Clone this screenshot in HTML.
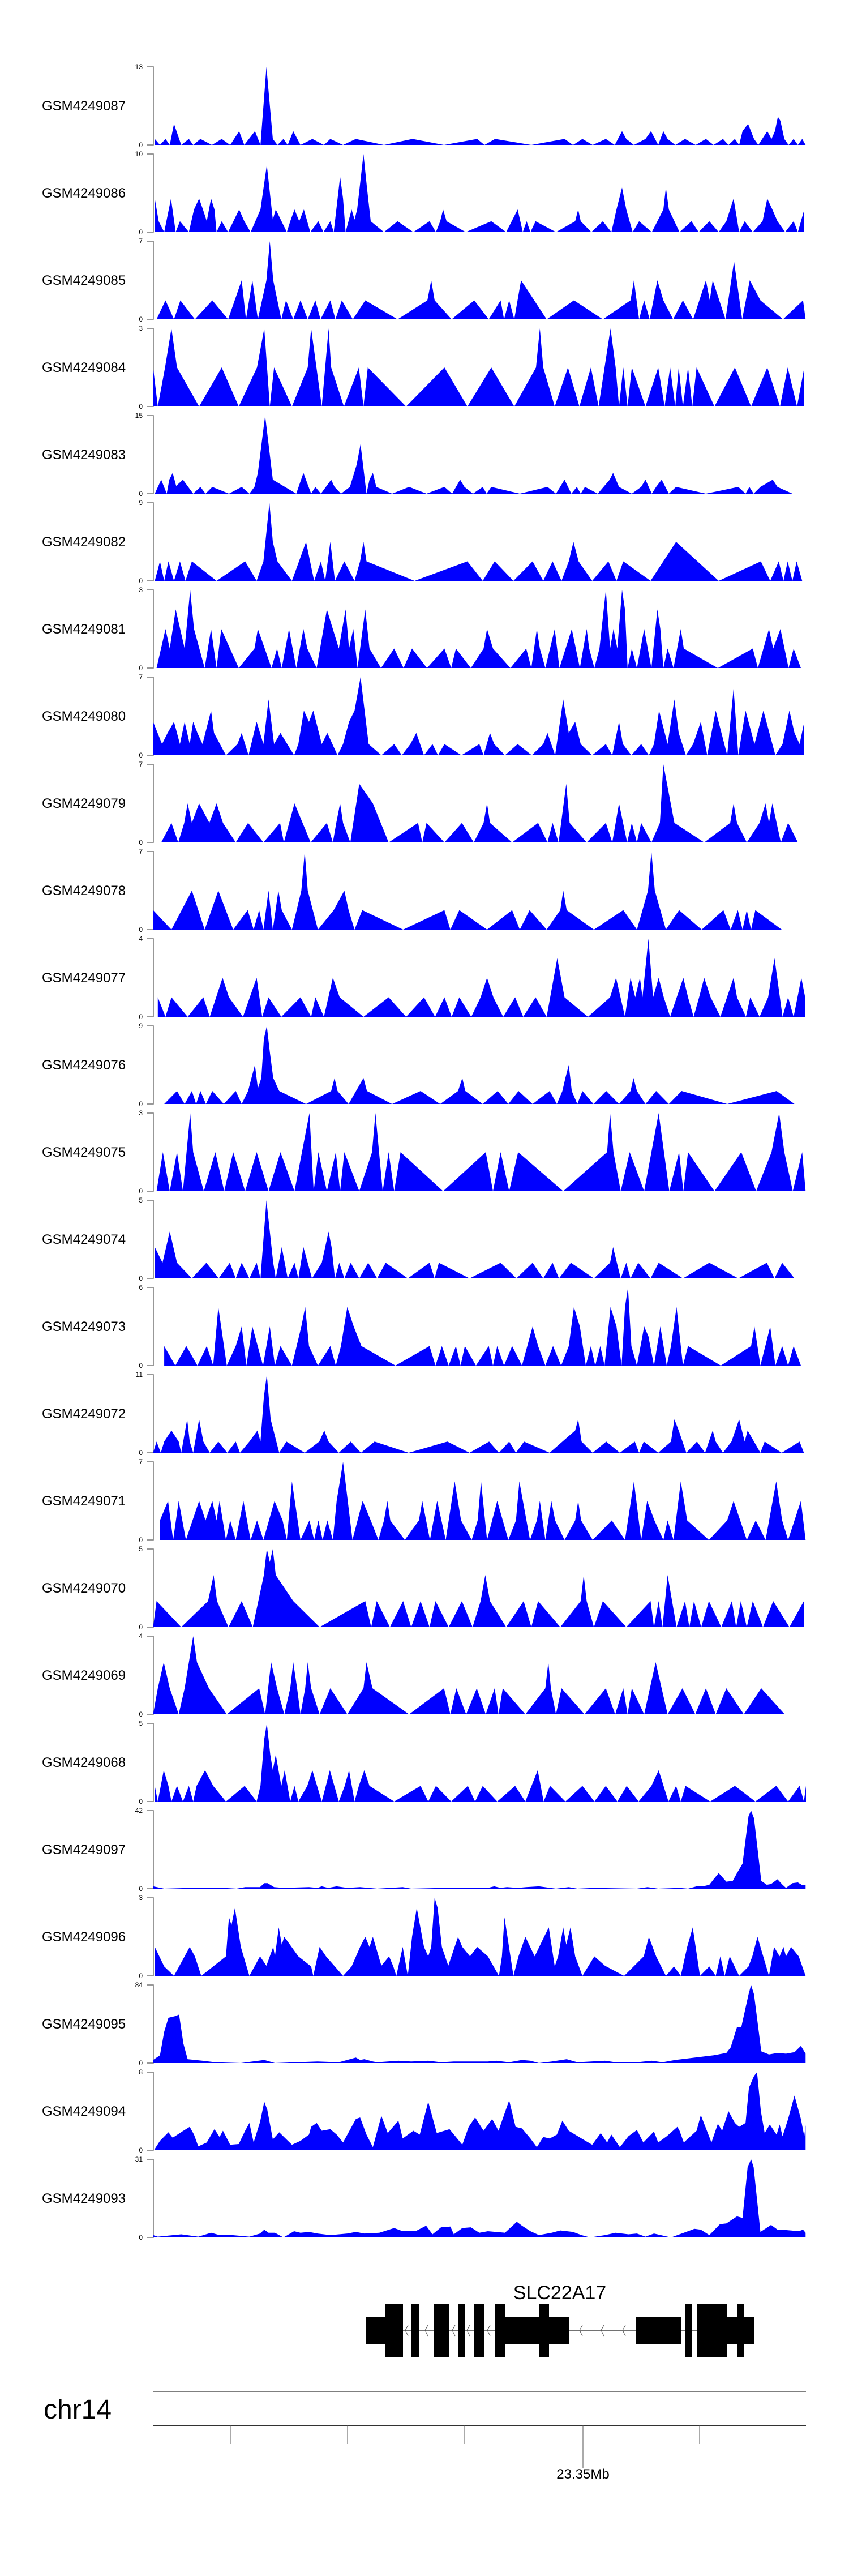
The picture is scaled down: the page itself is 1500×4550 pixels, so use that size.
<!DOCTYPE html>
<html><head><meta charset="utf-8">
<style>
html,body{margin:0;padding:0;background:#fff;}
svg{display:block;font-family:"Liberation Sans",Arial,sans-serif;}
</style></head>
<body>
<svg id="chart" width="1500" height="4550" viewBox="0 0 1500 4550" xmlns="http://www.w3.org/2000/svg">
<rect x="0" y="0" width="1500" height="4550" fill="#fff"/>
<g id="tracks"></g>
<g id="gene">
  <text x="989" y="4061" font-size="34" text-anchor="middle" fill="#000">SLC22A17</text>
  <line x1="681" y1="4116" x2="1332" y2="4116" stroke="#444" stroke-width="1.5"/>
</g>
<g id="axis">
  <text x="77" y="4272" font-size="48" fill="#000">chr14</text>
  <line x1="271" y1="4224" x2="1424" y2="4224" stroke="#555" stroke-width="1.5"/>
  <line x1="271" y1="4284" x2="1424" y2="4284" stroke="#333" stroke-width="2"/>
</g>
</svg>
<script>
const NS="http://www.w3.org/2000/svg";
const sampleNames=["GSM4249087","GSM4249086","GSM4249085","GSM4249084","GSM4249083","GSM4249082","GSM4249081","GSM4249080","GSM4249079","GSM4249078","GSM4249077","GSM4249076","GSM4249075","GSM4249074","GSM4249073","GSM4249072","GSM4249071","GSM4249070","GSM4249069","GSM4249068","GSM4249097","GSM4249096","GSM4249095","GSM4249094","GSM4249093"];
const maxTickLabels=["13","10","7","3","15","9","3","7","7","7","4","9","3","5","6","11","7","5","4","5","42","3","84","8","31"];
const yTop=[13,10,7,3,15,4,3,7,4,4,4,6,2,5,4,7,4,3,3,5,100,100,100,100,100];
const t1=[[18,1],[30,0],[43,1],[53,0],[63,3.5],[80,0],[98,1],[108,0],[125,1],[152,0],[175,1],[195,0],[216,2.3],[228,0],[253,2.3],[266,0],[280,13],[295,1],[306,0],[320,1],[330,0],[343,2.3],[360,0],[388,1],[415,0],[430,1],[460,0],[490,1],[556,0],[623,1],[697,0],[775,1],[792,0],[817,1],[902,0],[980,1],[1000,0],[1022,1],[1046,0],[1077,1],[1098,0],[1115,2.3],[1125,1],[1143,0],[1170,1],[1183,2.3],[1200,0],[1212,2.3],[1222,1],[1240,0],[1263,1],[1288,0],[1312,1],[1330,0],[1352,1],[1365,0],[1380,1],[1390,0],[1398,2.3],[1411,3.5],[1425,1],[1435,0],[1456,2.3],[1466,1],[1474,2.3],[1481,4.7],[1487,4],[1496,1],[1506,0],[1518,1],[1528,0],[1538,1],[1546,0]];
const t2=[[18,4.3],[27,1.4],[40,0],[56,4.3],[67,0],[77,1.4],[98,0],[110,2.9],[122,4.3],[131,2.9],[140,1.4],[150,4.3],[158,2.9],[163,0],[175,1.4],[190,0],[216,2.9],[228,1.4],[243,0],[266,2.9],[281,8.6],[295,1.6],[302,2.9],[328,0],[336,1.4],[346,2.9],[357,1.4],[368,2.9],[383,0],[402,1.4],[414,0],[430,1.4],[438,0],[453,7.1],[460,4.3],[466,0],[480,2.9],[487,1.6],[493,2.9],[508,10],[516,5.7],[525,1.4],[556,0],[588,1.4],[625,0],[663,1.4],[678,0],[688,1.4],[695,2.9],[703,1.4],[748,0],[808,1.4],[843,0],[870,2.9],[882,0],[891,1.4],[900,0],[912,1.4],[960,0],[1005,1.4],[1012,2.9],[1018,1.4],[1043,0],[1070,1.4],[1090,0],[1102,2.9],[1115,5.7],[1125,2.9],[1140,0],[1155,1.4],[1185,0],[1212,2.9],[1218,5.7],[1225,2.9],[1250,0],[1278,1.4],[1295,0],[1320,1.4],[1342,0],[1360,1.4],[1377,4.3],[1390,0],[1403,1.4],[1422,0],[1445,1.4],[1456,4.3],[1468,2.9],[1480,1.4],[1498,0],[1518,1.4],[1528,0],[1543,2.9]];
const t3=[[22,0],[43,1.7],[63,0],[78,1.7],[112,0],[153,1.7],[190,0],[222,3.5],[232,0],[247,3.5],[260,0],[280,3.5],[288,7],[296,3.5],[315,0],[326,1.7],[343,0],[360,1.7],[377,0],[395,1.7],[407,0],[430,1.7],[442,0],[457,1.7],[483,0],[512,1.7],[588,0],[658,1.7],[667,3.5],[675,1.7],[715,0],[768,1.7],[802,0],[830,1.7],[838,0],[850,1.7],[862,0],[878,3.5],[938,0],[1002,1.7],[1070,0],[1135,1.7],[1143,3.5],[1155,0],[1167,1.7],[1180,0],[1198,3.5],[1212,1.7],[1235,0],[1258,1.7],[1282,0],[1312,3.5],[1321,1.7],[1328,3.5],[1358,0],[1378,5.2],[1397,0],[1415,3.5],[1440,1.7],[1493,0],[1540,1.7],[1546,0]];
const t4=[[14,1.5],[25,0],[42,1.5],[57,3],[70,1.5],[122,0],[175,1.5],[215,0],[258,1.5],[275,3],[288,0],[298,1.5],[340,0],[377,1.5],[385,3],[410,0],[426,3],[432,1.5],[462,0],[497,1.5],[508,0],[518,1.5],[608,0],[698,1.5],[752,0],[808,1.5],[862,0],[913,1.5],[922,3],[930,1.5],[957,0],[988,1.5],[1015,0],[1042,1.5],[1060,0],[1088,3],[1100,1.5],[1108,0],[1118,1.5],[1128,0],[1138,1.5],[1170,0],[1200,1.5],[1215,0],[1228,1.5],[1240,0],[1248,1.5],[1258,0],[1270,1.5],[1280,0],[1290,1.5],[1332,0],[1380,1.5],[1418,0],[1456,1.5],[1486,0],[1504,1.5],[1526,0],[1543,1.5]];
const t5=[[18,0],[33,2.7],[46,0],[52,2.7],[60,4],[68,1.5],[84,2.7],[108,0],[125,1.3],[137,0],[153,1.3],[192,0],[222,1.3],[240,0],[252,1.3],[260,4],[277,15],[295,2.7],[350,0],[367,4],[385,0],[395,1.3],[408,0],[432,2.7],[440,1.3],[455,0],[476,1.3],[492,5.6],[501,9.5],[515,0],[522,2.7],[530,4],[538,1.3],[575,0],[615,1.3],[656,0],[698,1.3],[716,0],[735,2.7],[745,1.3],[765,0],[788,1.3],[797,0],[808,1.3],[875,0],[940,1.3],[960,0],[980,2.7],[996,0],[1009,1.3],[1018,0],[1028,1.3],[1058,0],[1086,2.7],[1094,4],[1108,1.3],[1138,0],[1160,1.3],[1170,2.7],[1185,0],[1195,1.3],[1208,2.7],[1225,0],[1242,1.3],[1312,0],[1388,1.3],[1405,0],[1414,1.3],[1424,0],[1440,1.3],[1469,2.7],[1480,1.3],[1515,0]];
const t6=[[18,0],[30,1],[40,0],[50,1],[63,0],[77,1],[90,0],[105,1],[163,0],[230,1],[257,0],[273,1],[287,4],[295,2],[306,1],[340,0],[373,2],[392,0],[408,1],[418,0],[430,2],[441,0],[463,1],[487,0],[500,1],[508,2],[515,1],[628,0],[752,1],[788,0],[816,1],[860,0],[905,1],[930,0],[952,1],[973,0],[990,1],[1001,2],[1013,1],[1045,0],[1083,1],[1102,0],[1118,1],[1182,0],[1242,2],[1342,0],[1441,1],[1463,0],[1483,1],[1494,0],[1504,1],[1515,0],[1525,1],[1538,0]];
const t7=[[22,0],[43,1.5],[53,0.75],[67,2.25],[88,0.75],[101,3],[110,1.5],[135,0],[150,1.5],[163,0],[174,1.5],[215,0],[252,0.75],[260,1.5],[276,0.75],[292,0],[305,0.75],[316,0],[333,1.5],[350,0],[367,1.5],[376,0.75],[398,0],[422,2.25],[450,0.75],[466,2.25],[474,0.75],[484,1.5],[494,0],[512,2.25],[522,0.75],[549,0],[580,0.75],[602,0],[622,0.75],[657,0],[698,0.75],[714,0],[725,0.75],[760,0],[790,0.75],[798,1.5],[812,0.75],[853,0],[890,0.75],[902,0],[915,1.5],[922,0.75],[935,0],[957,1.5],[968,0],[997,1.5],[1016,0],[1032,1.5],[1038,0.75],[1050,0],[1062,0.75],[1077,3],[1087,0.75],[1095,1.5],[1104,0.75],[1115,3],[1122,2.25],[1128,0],[1138,0.75],[1150,0],[1167,1.5],[1184,0],[1198,2.25],[1205,1.5],[1212,0],[1222,0.75],[1236,0],[1253,1.5],[1260,0.75],[1340,0],[1422,0.75],[1434,0],[1460,1.5],[1470,0.75],[1487,1.5],[1506,0],[1518,0.75],[1535,0]];
const t8=[[14,3],[35,1],[48,2],[63,3],[77,1],[88,3],[100,1],[108,3],[118,2],[130,1],[150,4],[157,2],[185,0],[212,1],[222,2],[238,0],[257,3],[273,1],[285,5],[298,1],[313,2],[345,0],[355,1],[368,4],[380,3],[390,4],[410,1],[423,2],[447,0],[460,1],[474,3],[487,4],[501,7],[520,1],[550,0],[580,1],[598,0],[618,1],[632,2],[650,0],[670,1],[683,0],[698,1],[738,0],[780,1],[790,0],[805,2],[815,1],[840,0],[870,1],[903,0],[930,1],[940,2],[958,0],[977,5],[990,2],[1005,3],[1018,1],[1045,0],[1077,1],[1092,0],[1108,3],[1117,1],[1137,0],[1160,1],[1178,0],[1190,1],[1202,4],[1222,1],[1238,5],[1248,2],[1265,0],[1282,1],[1300,3],[1315,0],[1335,4],[1362,0],[1377,6],[1388,0],[1405,4],[1426,1],[1447,4],[1475,0],[1492,1],[1508,4],[1520,2],[1532,1],[1543,3]];
const t9=[[33,0],[57,1],[73,0],[87,1],[95,2],[105,1],[122,2],[146,1],[163,2],[178,1],[208,0],[237,1],[273,0],[312,1],[321,0],[346,2],[384,0],[422,1],[436,0],[444,1],[453,2],[460,1],[477,0],[498,3],[530,2],[567,0],[636,1],[646,0],[656,1],[698,0],[739,1],[767,0],[790,1],[798,2],[805,1],[857,0],[918,1],[940,0],[952,1],[966,0],[984,3],[992,1],[1032,0],[1077,1],[1092,0],[1100,1],[1108,2],[1127,0],[1138,1],[1150,0],[1160,1],[1184,0],[1204,1],[1212,4],[1238,1],[1308,0],[1369,1],[1377,2],[1385,1],[1408,0],[1438,1],[1452,2],[1460,1],[1468,2],[1488,0],[1505,1],[1528,0]];
const t10=[[14,1],[57,0],[105,2],[135,0],[167,2],[202,0],[236,1],[250,0],[263,1],[273,0],[285,2],[295,0],[308,2],[316,1],[340,0],[362,2],[370,4],[377,2],[401,0],[438,1],[463,2],[473,1],[487,0],[505,1],[601,0],[698,1],[712,0],[733,1],[798,0],[857,1],[875,0],[898,1],[938,0],[970,1],[977,2],[985,1],[1049,0],[1118,1],[1150,0],[1176,2],[1184,4],[1192,2],[1218,0],[1249,1],[1302,0],[1353,1],[1370,0],[1387,1],[1398,0],[1408,1],[1418,0],[1428,1],[1490,0]];
const t11=[[25,1],[43,0],[57,1],[95,0],[132,1],[147,0],[162,1],[177,2],[192,1],[225,0],[257,2],[270,0],[285,1],[315,0],[360,1],[385,0],[395,1],[415,0],[436,2],[452,1],[508,0],[567,1],[608,0],[650,1],[676,0],[698,1],[715,0],[733,1],[761,0],[783,1],[798,2],[813,1],[836,0],[864,1],[883,0],[912,1],[938,0],[963,3],[980,1],[1035,0],[1087,1],[1101,2],[1122,0],[1135,2],[1146,1],[1157,2],[1163,1],[1177,4],[1188,1],[1201,2],[1213,1],[1228,0],[1259,2],[1270,1],[1283,0],[1296,1],[1308,2],[1323,1],[1346,0],[1377,2],[1385,1],[1406,0],[1416,1],[1438,0],[1458,1],[1473,3],[1492,0],[1505,1],[1518,0],[1536,2],[1545,1]];
const t12=[[40,0],[70,1],[88,0],[105,1],[115,0],[125,1],[138,0],[153,1],[180,0],[208,1],[222,0],[237,1],[245,2],[253,3],[260,1.2],[268,2],[274,5],[281,6],[288,4],[296,2],[310,1],[373,0],[432,1],[440,2],[447,1],[473,0],[508,2],[516,1],[575,0],[642,1],[688,0],[730,1],[740,2],[747,1],[788,0],[823,1],[848,0],[872,1],[905,0],[945,1],[962,0],[975,1],[982,2],[990,3],[997,1],[1010,0],[1022,1],[1048,0],[1078,1],[1108,0],[1135,1],[1142,2],[1150,1],[1170,0],[1195,1],[1225,0],[1255,1],[1362,0],[1478,1],[1520,0]];
const t13=[[22,0],[37,1],[53,0],[70,1],[84,0],[101,2],[108,1],[133,0],[160,1],[181,0],[202,1],[230,0],[257,1],[285,0],[313,1],[346,0],[381,2],[391,0],[402,1],[422,0],[443,1],[453,0],[463,1],[498,0],[528,1],[536,2],[553,0],[567,1],[580,0],[595,1],[695,0],[795,1],[812,0],[830,1],[850,0],[871,1],[977,0],[1080,1],[1087,2],[1095,1],[1112,0],[1133,1],[1167,0],[1201,2],[1226,0],[1249,1],[1259,0],[1270,1],[1332,0],[1395,1],[1430,0],[1466,1],[1484,2],[1496,1],[1516,0],[1538,1],[1546,0]];
const t14=[[18,2],[36,1],[53,3],[70,1],[105,0],[139,1],[168,0],[194,1],[208,0],[222,1],[240,0],[257,1],[266,0],[280,5],[296,1],[302,0],[316,2],[330,0],[346,1],[355,0],[367,2],[387,0],[410,1],[426,3],[433,2],[441,0],[451,1],[463,0],[478,1],[498,0],[519,1],[540,0],[560,1],[612,0],[663,1],[675,0],[685,1],[757,0],[830,1],[867,0],[905,1],[930,0],[952,1],[967,0],[995,1],[1049,0],[1087,1],[1094,2],[1103,1],[1112,0],[1125,1],[1135,0],[1153,1],[1182,0],[1201,1],[1258,0],[1320,1],[1388,0],[1455,1],[1473,0],[1491,1],[1520,0]];
const t15=[[40,1],[66,0],[92,1],[118,0],[140,1],[155,0],[167,3],[187,0],[208,1],[222,2],[233,0],[247,2],[272,0],[288,2],[300,0],[313,1],[340,0],[362,2],[371,3],[380,1],[401,0],[430,1],[443,0],[455,1],[470,3],[485,2],[503,1],[583,0],[663,1],[677,0],[692,1],[708,0],[725,1],[736,0],[746,1],[772,0],[802,1],[812,0],[822,1],[838,0],[857,1],[880,0],[905,2],[918,1],[935,0],[953,1],[972,0],[990,1],[1002,3],[1016,2],[1030,0],[1042,1],[1052,0],[1064,1],[1074,0],[1088,3],[1102,2],[1114,0],[1122,3],[1129,4],[1137,1],[1150,0],[1167,2],[1177,1.5],[1190,0],[1205,2],[1220,0],[1230,1],[1243,3],[1258,0],[1270,1],[1347,0],[1418,1],[1426,2],[1440,0],[1463,2],[1475,0],[1491,1],[1505,0],[1518,1],[1535,0]];
const t16=[[14,0],[22,1],[32,0],[40,1],[57,2],[74,1],[80,0],[94,3],[100,1],[108,0],[122,3],[132,1],[147,0],[167,1],[188,0],[208,1],[218,0],[240,1],[259,2],[266,1],[274,5],[281,7],[290,3],[310,0],[327,1],[370,0],[404,1],[416,2],[426,1],[450,0],[478,1],[502,0],[534,1],[614,0],[705,1],[757,0],[803,1],[826,0],[850,1],[866,0],[885,1],[945,0],[1005,2],[1012,3],[1020,1],[1046,0],[1078,1],[1110,0],[1145,1],[1155,0],[1166,1],[1200,0],[1230,1],[1238,3],[1248,2],[1266,0],[1291,1],[1310,0],[1328,2],[1335,1],[1352,0],[1372,1],[1390,3],[1403,1],[1410,2],[1440,0],[1450,1],[1490,0],[1532,1],[1542,0]];
const t17=[[30,1],[49,2],[61,0],[74,2],[91,0],[122,2],[137,1],[153,2],[163,1],[170,2],[185,0],[195,1],[208,0],[226,2],[243,0],[258,1],[273,0],[299,2],[318,1],[328,0],[340,3],[360,0],[381,1],[392,0],[402,1],[412,0],[423,1],[436,0],[445,2],[460,4],[482,0],[506,2],[525,1],[543,0],[556,1],[564,2],[571,1],[605,0],[638,1],[646,2],[664,0],[681,2],[701,0],[722,3],[737,1],[762,0],[776,1],[784,3],[798,0],[822,2],[848,0],[866,1],[874,3],[899,0],[915,1],[922,2],[935,0],[949,2],[958,1],[980,0],[1005,1],[1012,2],[1019,1],[1046,0],[1091,1],[1122,0],[1143,3],[1160,0],[1174,2],[1191,1],[1212,0],[1222,1],[1236,0],[1253,3],[1268,1],[1319,0],[1362,1],[1377,2],[1408,0],[1429,1],[1452,0],[1477,3],[1491,1],[1505,0],[1535,2],[1546,0]];
const t18=[[14,0],[22,1],[80,0],[143,1],[156,2],[164,1],[191,0],[222,1],[248,0],[274,2],[281,3],[288,2.5],[295,3],[302,2],[343,1],[405,0],[512,1],[526,0],[539,1],[570,0],[601,1],[620,0],[642,1],[663,0],[677,1],[708,0],[739,1],[764,0],[783,1],[794,2],[805,1],[843,0],[884,1],[902,0],[918,1],[970,0],[1018,1],[1025,2],[1032,1],[1049,0],[1070,1],[1125,0],[1182,1],[1190,0],[1201,1],[1210,0],[1222,2],[1243,0],[1263,1],[1273,0],[1284,1],[1301,0],[1319,1],[1348,0],[1373,1],[1383,0],[1394,1],[1408,0],[1422,1],[1446,0],[1470,1],[1508,0],[1542,1]];
const t19=[[14,0],[25,1],[39,2],[53,1],[74,0],[88,1],[108,3],[117,2],[145,1],[187,0],[263,1],[277,0],[291,2],[305,1],[322,0],[336,1],[343,2],[352,1],[360,0],[371,1],[377,2],[385,1],[405,0],[430,1],[470,0],[508,1],[515,2],[529,1],[615,0],[697,1],[712,0],[726,1],[749,0],[774,1],[795,0],[816,1],[825,0],[835,1],[888,0],[935,1],[942,2],[948,1],[960,0],[973,1],[1027,0],[1077,1],[1099,0],[1118,1],[1128,0],[1138,1],[1167,0],[1194,2],[1222,0],[1257,1],[1287,0],[1312,1],[1335,0],[1360,1],[1401,0],[1442,1],[1497,0]];
const t20=[[18,1],[25,0],[39,2],[50,1],[57,0],[70,1],[84,0],[98,1],[108,0],[116,1],[136,2],[155,1],[185,0],[229,1],[257,0],[266,1],[275,4],[281,5],[289,3],[295,2],[302,3],[315,1],[323,2],[336,0],[346,1],[355,0],[376,1],[388,2],[410,0],[429,2],[450,0],[464,1],[474,2],[487,0],[497,1],[510,2],[522,1],[580,0],[642,1],[660,0],[678,1],[714,0],[753,1],[770,0],[788,1],[822,0],[864,1],[888,0],[917,2],[931,0],[946,1],[982,0],[1022,1],[1050,0],[1077,1],[1104,0],[1126,1],[1154,0],[1184,1],[1201,2],[1224,0],[1242,1],[1253,0],[1264,1],[1322,0],[1380,1],[1428,0],[1477,1],[1505,0],[1532,1],[1542,0],[1547,1]];
const t21=[[14,3],[40,0],[100,1],[180,1],[210,0],[230,2],[265,2],[275,7],[283,7],[298,2],[320,1],[380,2],[400,1],[410,3],[425,1],[445,3],[470,1],[500,2],[540,0],[600,2],[620,0],[700,1],[800,1],[815,3],[830,1],[845,2],[870,1],[890,2],[920,3],[960,0],[990,2],[1010,0],[1050,1],[1150,0],[1175,2],[1200,0],[1250,1],[1270,0],[1290,3],[1305,3],[1320,5],[1330,12],[1342,20],[1360,9],[1375,10],[1385,20],[1398,32],[1412,93],[1418,100],[1425,90],[1442,10],[1455,5],[1465,6],[1480,12],[1492,5],[1500,1],[1515,7],[1528,8],[1537,5],[1546,5]];
const t22=[[18,37],[40,12],[63,0],[100,37],[112,25],[127,0],[185,25],[192,75],[198,65],[206,87],[220,37],[240,0],[265,25],[280,13],[296,37],[300,25],[309,62],[316,40],[322,50],[355,25],[385,12],[390,0],[405,37],[420,25],[460,0],[480,12],[500,37],[512,50],[522,37],[530,50],[550,13],[568,25],[578,12],[585,0],[600,37],[612,0],[622,50],[633,87],[650,37],[660,25],[667,37],[675,100],[682,87],[692,37],[707,13],[730,50],[740,37],[758,25],[775,37],[800,25],[826,0],[833,25],[839,75],[860,0],[872,25],[888,50],[910,25],[932,50],[943,62],[957,12],[965,25],[977,62],[984,40],[994,62],[1005,25],[1022,0],[1050,25],[1075,13],[1120,0],[1166,25],[1178,50],[1195,25],[1218,0],[1237,12],[1253,0],[1268,37],[1281,62],[1298,0],[1320,12],[1335,0],[1346,25],[1356,0],[1368,25],[1390,0],[1412,12],[1421,25],[1433,50],[1460,0],[1472,37],[1485,25],[1494,37],[1500,25],[1512,37],[1530,25],[1546,0]];
const t23=[[14,4],[30,10],[40,40],[50,58],[65,60],[75,62],[85,25],[95,5],[130,3],[160,1],[220,0],[275,4],[300,0],[400,2],[450,1],[490,7],[500,4],[510,5],[530,2],[540,1],[590,3],[620,2],[660,3],[690,1],[720,2],[800,2],[820,3],[850,1],[880,4],[900,3],[920,0],[950,2],[985,5],[1010,1],[1075,3],[1100,1],[1150,1],[1185,3],[1210,1],[1240,4],[1270,6],[1300,8],[1330,10],[1360,13],[1370,20],[1385,46],[1395,46],[1412,88],[1418,100],[1425,88],[1442,15],[1460,11],[1480,13],[1500,12],[1520,14],[1535,22],[1546,12]];
const t24=[[16,0],[30,12],[50,23],[60,16],[85,25],[100,30],[110,20],[120,5],[140,10],[158,27],[170,17],[178,25],[195,7],[215,8],[230,25],[240,35],[250,10],[265,36],[275,62],[282,52],[295,14],[310,23],[340,7],[360,12],[380,20],[385,30],[398,35],[410,25],[430,27],[445,20],[460,10],[490,40],[500,42],[515,20],[530,4],[550,44],[565,22],[590,38],[600,15],[625,25],[640,20],[660,62],[680,22],[710,27],[740,7],[755,30],[770,42],[790,25],[810,40],[825,25],[850,64],[865,30],[880,28],[900,15],[915,4],[930,17],[945,15],[962,20],[975,38],[990,25],[1020,15],[1045,7],[1065,22],[1080,10],[1090,20],[1110,4],[1130,18],[1150,26],[1165,10],[1190,24],[1200,10],[1220,18],[1245,30],[1250,25],[1260,10],[1290,25],[1300,45],[1325,10],[1340,34],[1350,25],[1365,50],[1380,35],[1390,30],[1405,35],[1413,80],[1425,95],[1432,100],[1441,50],[1450,22],[1462,33],[1478,20],[1485,33],[1492,18],[1505,40],[1520,70],[1535,40],[1543,18],[1546,32]];
const t25=[[14,3],[25,1],[80,4],[120,1],[150,6],[170,3],[200,3],[240,1],[265,5],[275,10],[285,6],[300,6],[320,0],[345,8],[360,6],[380,7],[400,5],[430,3],[470,5],[490,7],[510,5],[545,6],[580,12],[600,8],[630,8],[655,15],[670,4],[690,13],[712,14],[720,4],[740,12],[760,13],[780,6],[800,8],[840,6],[868,20],[880,15],[900,8],[920,3],[950,6],[970,9],[1000,7],[1020,3],[1040,0],[1075,3],[1100,6],[1130,4],[1150,5],[1170,1],[1190,5],[1230,0],[1260,6],[1285,11],[1300,10],[1320,3],[1345,17],[1360,18],[1385,27],[1398,25],[1410,90],[1418,100],[1424,90],[1440,7],[1465,16],[1480,10],[1490,10],[1530,8],[1540,10],[1546,6]];
const trackData=[t1,t2,t3,t4,t5,t6,t7,t8,t9,t10,t11,t12,t13,t14,t15,t16,t17,t18,t19,t20,t21,t22,t23,t24,t25];
// gene model (genomic units, same axis as tracks)
const exonTall=[[681,712],[727,740],[766,794],[810,821],[837,855],[874,892],[953,970],[1211,1222],[1232,1284],[1303,1315]];
const exonMid=[[647,681],[892,1006],[1124,1204],[1284,1332]];
const chevrons=[716,751,799,825,861,1024,1062,1100];
const axisTicks=[407,614,821,1030,1236];
const majorTickLabel="23.35Mb";

const X0=260, XS=1/1.329;
function xScale(u){return X0+u*XS;}
const trackTop0=118, trackPitch=154, trackH=138;

const g=document.getElementById('tracks');
for(let i=0;i<trackData.length;i++){
  const top=trackTop0+i*trackPitch, base=top+trackH;
  const tg=document.createElementNS(NS,'g');
  
  
  g.appendChild(tg);
  const lab=document.createElementNS(NS,'text');
  lab.setAttribute('x',74);lab.setAttribute('y',top+trackH/2+8);
  lab.setAttribute('font-size','24');lab.setAttribute('fill','#000');
  lab.textContent=sampleNames[i];
  
  
  tg.appendChild(lab);
  const ax=document.createElementNS(NS,'path');
  ax.setAttribute('d',`M259 ${top} H271 V${base} H259`);
  ax.setAttribute('fill','none');ax.setAttribute('stroke','#777');ax.setAttribute('stroke-width','1.5');
  
  
  tg.appendChild(ax);
  [[maxTickLabels[i],top],["0",base]].forEach(([t,y])=>{
    const tl=document.createElementNS(NS,'text');
    tl.setAttribute('x',252);tl.setAttribute('y',y+4);
    tl.setAttribute('font-size','12');tl.setAttribute('text-anchor','end');tl.setAttribute('fill','#000');
    tl.textContent=t;
    
    
    tg.appendChild(tl);
  });
  const pts=trackData[i];
  const yS=v=>base-Math.min(v,yTop[i])/yTop[i]*trackH;
  let d=`M${xScale(pts[0][0]).toFixed(1)} ${base}`;
  for(const [u,v] of pts){d+=` L${xScale(u).toFixed(1)} ${yS(v).toFixed(1)}`;}
  d+=` L${xScale(pts[pts.length-1][0]).toFixed(1)} ${base} Z`;
  const area=document.createElementNS(NS,'path');
  area.setAttribute('d',d);area.setAttribute('fill','#0000ff');
  
  
  tg.appendChild(area);
}
const gg=document.getElementById('gene');
for(const c of chevrons){
  const p=document.createElementNS(NS,'path');
  p.setAttribute('d',`M${c+5} 4107 L${c} 4116 L${c+5} 4126`);
  p.setAttribute('fill','none');p.setAttribute('stroke','#555');p.setAttribute('stroke-width','1');
  
  
  gg.appendChild(p);
}
for(const [a,b] of exonMid){
  const r=document.createElementNS(NS,'rect');
  r.setAttribute('x',a);r.setAttribute('y',4092);r.setAttribute('width',b-a);r.setAttribute('height',48);r.setAttribute('fill','#000');
  
  
  gg.appendChild(r);
}
for(const [a,b] of exonTall){
  const r=document.createElementNS(NS,'rect');
  r.setAttribute('x',a);r.setAttribute('y',4069);r.setAttribute('width',b-a);r.setAttribute('height',95);r.setAttribute('fill','#000');
  
  
  gg.appendChild(r);
}
const ag=document.getElementById('axis');
axisTicks.forEach((t,k)=>{
  const l=document.createElementNS(NS,'line');
  const major=(k===3);
  l.setAttribute('x1',t);l.setAttribute('x2',t);l.setAttribute('y1',4284);l.setAttribute('y2',major?4360:4316);
  l.setAttribute('stroke','#555');l.setAttribute('stroke-width','1');
  
  
  ag.appendChild(l);
  if(major){
    const tx=document.createElementNS(NS,'text');
    tx.setAttribute('x',t);tx.setAttribute('y',4378);tx.setAttribute('font-size','24');tx.setAttribute('text-anchor','middle');
    tx.textContent=majorTickLabel;
    
    
    ag.appendChild(tx);
  }
});
</script>
</body></html>
